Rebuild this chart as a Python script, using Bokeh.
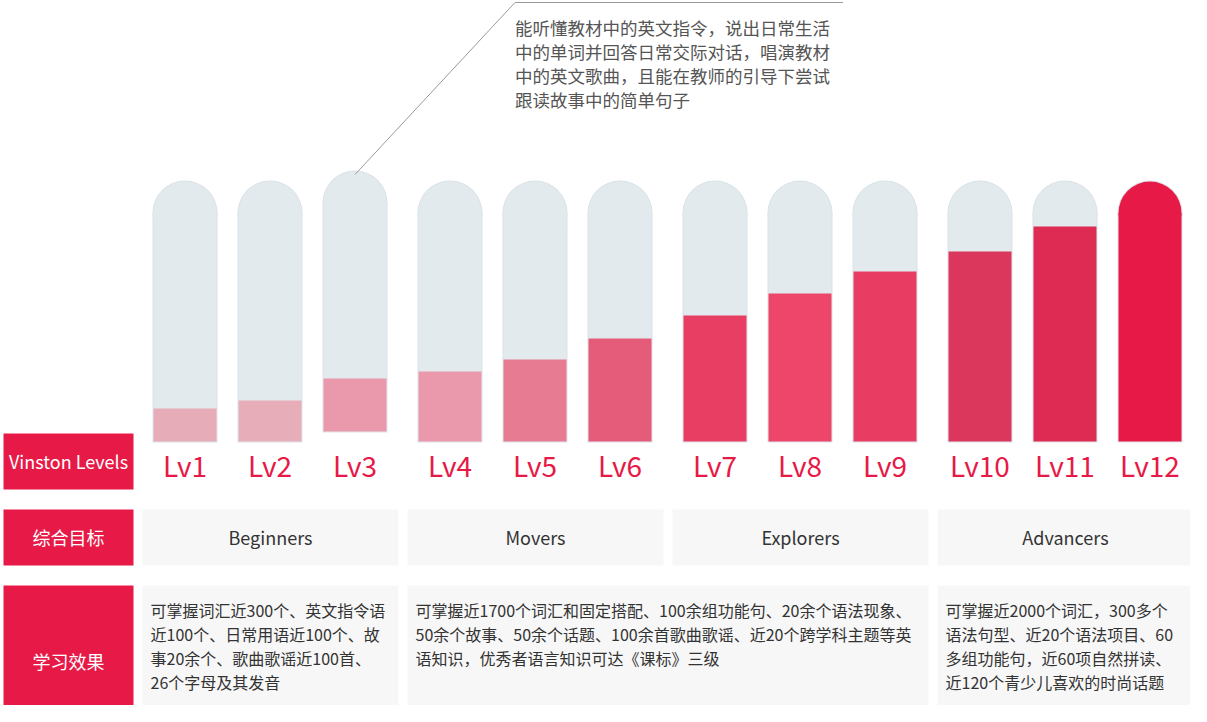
from bokeh.plotting import figure
from bokeh.models import Range1d
from bokeh.core.properties import value
from bokeh.embed import file_html
from bokeh.resources import INLINE

# ---------------- data ----------------
levels = ["Lv1", "Lv2", "Lv3", "Lv4", "Lv5", "Lv6",
          "Lv7", "Lv8", "Lv9", "Lv10", "Lv11", "Lv12"]
progress = [12.6, 15.7, 20.3, 26.8, 31.4, 39.5, 48.3, 56.7, 65.1, 72.8, 82.4, 100]
level_group = [0, 0, 0, 1, 1, 1, 2, 2, 2, 3, 3, 3]
groups = ["Beginners", "Movers", "Explorers", "Advancers"]
row_titles = ["Vinston Levels", "综合目标", "学习效果"]
effect_spans = [(0, 0), (1, 2), (3, 3)]
effect_texts = [
    ["可掌握词汇近300个、英文指令语",
     "近100个、日常用语近100个、故",
     "事20余个、歌曲歌谣近100首、",
     "26个字母及其发音"],
    ["可掌握近1700个词汇和固定搭配、100余组功能句、20余个语法现象、",
     "50余个故事、50余个话题、100余首歌曲歌谣、近20个跨学科主题等英",
     "语知识，优秀者语言知识可达《课标》三级"],
    ["可掌握近2000个词汇，300多个",
     "语法句型、近20个语法项目、60",
     "多组功能句，近60项自然拼读、",
     "近120个青少儿喜欢的时尚话题"],
]
callout_lines = ["能听懂教材中的英文指令，说出日常生活",
                 "中的单词并回答日常交际对话，唱演教材",
                 "中的英文歌曲，且能在教师的引导下尝试",
                 "跟读故事中的简单句子"]
highlight_level = 2

# ---------------- styles ----------------
FONT = value("Noto Sans CJK SC")
RED = "#e71a47"
TRACK = "#e2eaee"
TRACK_EDGE = "#dbe3e8"
BOX_BG = "#f7f7f7"
fill_palette = ["#e6acb8", "#e7adb9", "#e999ab", "#e999ab", "#e77b92", "#e55c7b",
                "#e83e63", "#ee466b", "#e83c62", "#db375c", "#dd2b53", "#e71a47"]

X0, STEP, GROUP_GAP = 184.5, 85, 10
R = 32.5
TOP, BOTTOM, LIFT = 181, 442, 10

p = figure(width=1190, height=705, output_backend="svg", toolbar_location=None,
           x_range=Range1d(0, 1190), y_range=Range1d(706, 1),
           min_border=0, outline_line_color=None)
p.axis.visible = False
p.grid.visible = False
p.background_fill_color = "white"
p.border_fill_color = "white"

# ---------------- bars ----------------
centers = []
for i, (lv, v) in enumerate(zip(levels, progress)):
    cx = X0 + STEP * i + GROUP_GAP * level_group[i]
    centers.append(cx)
    lift = LIFT if i == highlight_level else 0
    top, bottom = TOP - lift, BOTTOM - lift
    # track (with a faint edge)
    p.quad(left=[cx - R], right=[cx + R], top=[top + R], bottom=[bottom + 1],
           fill_color=TRACK_EDGE, line_color=None)
    p.circle(x=[cx], y=[top + R], radius=R, radius_dimension="x",
             fill_color=TRACK_EDGE, line_color=None)
    p.quad(left=[cx - R + 1], right=[cx + R - 1], top=[top + R], bottom=[bottom],
           fill_color=TRACK, line_color=None)
    p.circle(x=[cx], y=[top + R], radius=R - 1, radius_dimension="x",
             fill_color=TRACK, line_color=None)
    # fill
    h = v / 100.0 * (BOTTOM - TOP)
    if v >= 100:
        p.quad(left=[cx - R + 1], right=[cx + R - 1], top=[top + R], bottom=[bottom],
               fill_color=fill_palette[i], line_color=None)
        p.circle(x=[cx], y=[top + R], radius=R - 1, radius_dimension="x",
                 fill_color=fill_palette[i], line_color=None)
    else:
        p.quad(left=[cx - R + 1], right=[cx + R - 1], top=[bottom - h], bottom=[bottom],
               fill_color=fill_palette[i], line_color=None)

p.text(x=centers, y=[465] * len(levels), text=levels, text_font=FONT,
       text_font_size="28px", text_color=RED, text_align="center",
       text_baseline="middle")

# ---------------- callout ----------------
hx = centers[highlight_level]
ht = TOP - LIFT
p.line(x=[hx, hx + 160, hx + 488], y=[ht + 4, 3, 3], line_color="#9a9a9a", line_width=1)
p.text(x=[hx + 160] * len(callout_lines),
       y=[28 + 24 * k for k in range(len(callout_lines))],
       text=callout_lines, text_font=FONT, text_font_size="17.5px",
       text_color="#555555", text_align="left", text_baseline="middle")

# ---------------- row titles ----------------
rows = [(434, 490), (510, 566), (586, 738)]
p.quad(left=[3] * 3, right=[133] * 3, top=[r[0] for r in rows],
       bottom=[r[1] for r in rows], fill_color=RED, line_color=None)
p.text(x=[68] * 3, y=[461, 537, 661], text=row_titles, text_font=FONT,
       text_font_size="18px", text_color="white", text_align="center",
       text_baseline="middle")

# ---------------- group boxes ----------------
GL, GSTEP, GW = 142, 265, 256
gl = [GL + GSTEP * g for g in range(len(groups))]
p.quad(left=gl, right=[x + GW for x in gl], top=[510] * len(groups),
       bottom=[566] * len(groups), fill_color=BOX_BG, line_color=None)
p.text(x=[x + GW / 2 for x in gl], y=[537] * len(groups), text=groups,
       text_font=FONT, text_font_size="18px", text_color="#333333",
       text_align="center", text_baseline="middle")

# ---------------- effect boxes ----------------
for (s, e), lines in zip(effect_spans, effect_texts):
    left = GL + GSTEP * s
    right = GL + GSTEP * e + GW
    p.quad(left=[left], right=[right], top=[586], bottom=[738],
           fill_color=BOX_BG, line_color=None)
    p.text(x=[left + 8] * len(lines), y=[610 + 24 * k for k in range(len(lines))],
           text=lines, text_font=FONT, text_font_size="16px",
           text_color="#333333", text_align="left", text_baseline="middle")

open("out.html", "w").write(file_html(p, INLINE))
